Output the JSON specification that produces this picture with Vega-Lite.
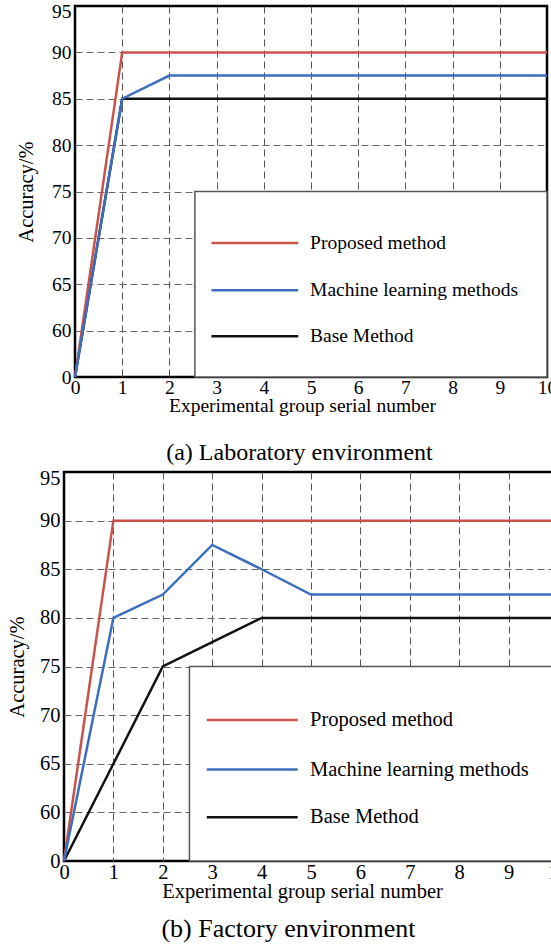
{
  "$schema": "https://vega.github.io/schema/vega-lite/v6.json",
  "padding": {"left": 6, "top": 0, "right": 5, "bottom": 5},
  "background": "white",
  "datasets": {
    "lab": [
      {"group": 0, "acc": 0, "method": "Base Method"},
      {"group": 1, "acc": 85, "method": "Base Method"},
      {"group": 2, "acc": 85, "method": "Base Method"},
      {"group": 3, "acc": 85, "method": "Base Method"},
      {"group": 4, "acc": 85, "method": "Base Method"},
      {"group": 5, "acc": 85, "method": "Base Method"},
      {"group": 6, "acc": 85, "method": "Base Method"},
      {"group": 7, "acc": 85, "method": "Base Method"},
      {"group": 8, "acc": 85, "method": "Base Method"},
      {"group": 9, "acc": 85, "method": "Base Method"},
      {"group": 10, "acc": 85, "method": "Base Method"},
      {"group": 0, "acc": 0, "method": "Proposed method"},
      {"group": 1, "acc": 90, "method": "Proposed method"},
      {"group": 2, "acc": 90, "method": "Proposed method"},
      {"group": 3, "acc": 90, "method": "Proposed method"},
      {"group": 4, "acc": 90, "method": "Proposed method"},
      {"group": 5, "acc": 90, "method": "Proposed method"},
      {"group": 6, "acc": 90, "method": "Proposed method"},
      {"group": 7, "acc": 90, "method": "Proposed method"},
      {"group": 8, "acc": 90, "method": "Proposed method"},
      {"group": 9, "acc": 90, "method": "Proposed method"},
      {"group": 10, "acc": 90, "method": "Proposed method"},
      {"group": 0, "acc": 0, "method": "Machine learning methods"},
      {"group": 1, "acc": 85, "method": "Machine learning methods"},
      {"group": 2, "acc": 87.5, "method": "Machine learning methods"},
      {"group": 3, "acc": 87.5, "method": "Machine learning methods"},
      {"group": 4, "acc": 87.5, "method": "Machine learning methods"},
      {"group": 5, "acc": 87.5, "method": "Machine learning methods"},
      {"group": 6, "acc": 87.5, "method": "Machine learning methods"},
      {"group": 7, "acc": 87.5, "method": "Machine learning methods"},
      {"group": 8, "acc": 87.5, "method": "Machine learning methods"},
      {"group": 9, "acc": 87.5, "method": "Machine learning methods"},
      {"group": 10, "acc": 87.5, "method": "Machine learning methods"}
    ],
    "factory": [
      {"group": 0, "acc": 0, "method": "Base Method"},
      {"group": 1, "acc": 65, "method": "Base Method"},
      {"group": 2, "acc": 75, "method": "Base Method"},
      {"group": 3, "acc": 77.5, "method": "Base Method"},
      {"group": 4, "acc": 80, "method": "Base Method"},
      {"group": 5, "acc": 80, "method": "Base Method"},
      {"group": 6, "acc": 80, "method": "Base Method"},
      {"group": 7, "acc": 80, "method": "Base Method"},
      {"group": 8, "acc": 80, "method": "Base Method"},
      {"group": 9, "acc": 80, "method": "Base Method"},
      {"group": 10, "acc": 80, "method": "Base Method"},
      {"group": 0, "acc": 0, "method": "Proposed method"},
      {"group": 1, "acc": 90, "method": "Proposed method"},
      {"group": 2, "acc": 90, "method": "Proposed method"},
      {"group": 3, "acc": 90, "method": "Proposed method"},
      {"group": 4, "acc": 90, "method": "Proposed method"},
      {"group": 5, "acc": 90, "method": "Proposed method"},
      {"group": 6, "acc": 90, "method": "Proposed method"},
      {"group": 7, "acc": 90, "method": "Proposed method"},
      {"group": 8, "acc": 90, "method": "Proposed method"},
      {"group": 9, "acc": 90, "method": "Proposed method"},
      {"group": 10, "acc": 90, "method": "Proposed method"},
      {"group": 0, "acc": 0, "method": "Machine learning methods"},
      {"group": 1, "acc": 80, "method": "Machine learning methods"},
      {"group": 2, "acc": 82.4, "method": "Machine learning methods"},
      {"group": 3, "acc": 87.5, "method": "Machine learning methods"},
      {"group": 4, "acc": 85, "method": "Machine learning methods"},
      {"group": 5, "acc": 82.4, "method": "Machine learning methods"},
      {"group": 6, "acc": 82.4, "method": "Machine learning methods"},
      {"group": 7, "acc": 82.4, "method": "Machine learning methods"},
      {"group": 8, "acc": 82.4, "method": "Machine learning methods"},
      {"group": 9, "acc": 82.4, "method": "Machine learning methods"},
      {"group": 10, "acc": 82.4, "method": "Machine learning methods"}
    ],
    "one": [{}]
  },
  "vconcat": [
    {
      "width": 472,
      "height": 371,
      "title": {"text": "(a) Laboratory environment", "orient": "bottom", "anchor": "middle", "baseline": "top", "fontSize": 24, "fontWeight": "normal", "color": "black", "offset": 26, "dx": -11.5},
      "layer": [
        {
          "data": {"name": "lab"},
          "mark": {"type": "line", "strokeWidth": 2.5},
          "encoding": {
            "x": {
              "field": "group", "type": "quantitative",
              "scale": {"domain": [0, 10], "nice": false, "zero": false},
              "axis": {
                "title": "Experimental group serial number",
                "values": [0, 1, 2, 3, 4, 5, 6, 7, 8, 9, 10],
                "ticks": false, "tickSize": 0, "domain": false, "labelFlush": false,
                "labelPadding": 1.5, "labelFontSize": 19.5, "labelAngle": 0,
                "titleFontSize": 19.5, "titlePadding": -1, "titleX": 227, "titleAnchor": "middle",
                "grid": true, "gridDash": [7, 4], "gridColor": "#555555", "gridWidth": 1,
                "gridOpacity": {"condition": {"test": "datum.value == 0 || datum.value == 10", "value": 0}, "value": 1}
              }
            },
            "y": {
              "field": "acc", "type": "quantitative",
              "scale": {"domain": [55, 95], "clamp": true, "nice": false, "zero": false},
              "axis": {
                "title": "Accuracy/%",
                "values": [55, 60, 65, 70, 75, 80, 85, 90, 95],
                "labelExpr": "datum.value == 55 ? '0' : datum.label",
                "ticks": false, "tickSize": 0, "domain": false, "labelFlush": false,
                "labelPadding": 4, "labelFontSize": 19.5,
                "labelBaseline": {"condition": {"test": "datum.value == 95", "value": "top"}, "value": "middle"},
                "labelOffset": {"condition": {"test": "datum.value == 95", "value": -3.5}, "value": 0},
                "titleFontSize": 20.5, "titlePadding": 15,
                "grid": true, "gridDash": [7, 4], "gridColor": "#666666", "gridWidth": 1,
                "gridOpacity": {"condition": {"test": "datum.value == 55 || datum.value == 95", "value": 0}, "value": 1}
              }
            },
            "color": {
              "field": "method", "type": "nominal", "legend": null,
              "scale": {"domain": ["Proposed method", "Machine learning methods", "Base Method"], "range": ["#c9534a", "#3c6ebe", "#111111"]}
            }
          }
        },
        {
          "data": {"name": "one"},
          "mark": {"type": "rect", "fill": "white", "stroke": "#555555", "strokeWidth": 1.5},
          "encoding": {
            "x": {"datum": 2.54, "type": "quantitative"},
            "x2": {"datum": 10},
            "y": {"datum": 55, "type": "quantitative"},
            "y2": {"datum": 75}
          }
        },
        {"data": {"name": "one"}, "mark": {"type": "rule", "color": "#c9534a", "strokeWidth": 2.5},
         "encoding": {"x": {"datum": 2.89, "type": "quantitative"}, "x2": {"datum": 4.73}, "y": {"datum": 69.45, "type": "quantitative"}}},
        {"data": {"name": "one"}, "mark": {"type": "rule", "color": "#3c6ebe", "strokeWidth": 2.5},
         "encoding": {"x": {"datum": 2.89, "type": "quantitative"}, "x2": {"datum": 4.73}, "y": {"datum": 64.35, "type": "quantitative"}}},
        {"data": {"name": "one"}, "mark": {"type": "rule", "color": "#111111", "strokeWidth": 2.5},
         "encoding": {"x": {"datum": 2.89, "type": "quantitative"}, "x2": {"datum": 4.73}, "y": {"datum": 59.4, "type": "quantitative"}}},
        {"data": {"name": "one"}, "mark": {"type": "text", "align": "left", "baseline": "middle", "fontSize": 19.5, "color": "black", "text": "Proposed method"},
         "encoding": {"x": {"datum": 4.98, "type": "quantitative"}, "y": {"datum": 69.45, "type": "quantitative"}}},
        {"data": {"name": "one"}, "mark": {"type": "text", "align": "left", "baseline": "middle", "fontSize": 19.5, "color": "black", "text": "Machine learning methods"},
         "encoding": {"x": {"datum": 4.98, "type": "quantitative"}, "y": {"datum": 64.35, "type": "quantitative"}}},
        {"data": {"name": "one"}, "mark": {"type": "text", "align": "left", "baseline": "middle", "fontSize": 19.5, "color": "black", "text": "Base Method"},
         "encoding": {"x": {"datum": 4.98, "type": "quantitative"}, "y": {"datum": 59.4, "type": "quantitative"}}}
      ]
    },
    {
      "width": 494,
      "height": 389,
      "title": {"text": "(b) Factory environment", "orient": "bottom", "anchor": "middle", "baseline": "top", "fontSize": 26, "fontWeight": "normal", "color": "black", "offset": 14, "dx": -22.5},
      "layer": [
        {
          "data": {"name": "factory"},
          "mark": {"type": "line", "strokeWidth": 2.5},
          "encoding": {
            "x": {
              "field": "group", "type": "quantitative",
              "scale": {"domain": [0, 10], "nice": false, "zero": false},
              "axis": {
                "title": "Experimental group serial number",
                "values": [0, 1, 2, 3, 4, 5, 6, 7, 8, 9, 10],
                "ticks": false, "tickSize": 0, "domain": false, "labelFlush": false,
                "labelPadding": 1.5, "labelFontSize": 20.5, "labelAngle": 0,
                "titleFontSize": 20.5, "titlePadding": -2, "titleX": 238, "titleAnchor": "middle",
                "grid": true, "gridDash": [7, 4], "gridColor": "#555555", "gridWidth": 1,
                "gridOpacity": {"condition": {"test": "datum.value == 0 || datum.value == 10", "value": 0}, "value": 1}
              }
            },
            "y": {
              "field": "acc", "type": "quantitative",
              "scale": {"domain": [55, 95], "clamp": true, "nice": false, "zero": false},
              "axis": {
                "title": "Accuracy/%",
                "values": [55, 60, 65, 70, 75, 80, 85, 90, 95],
                "labelExpr": "datum.value == 55 ? '0' : datum.label",
                "ticks": false, "tickSize": 0, "domain": false, "labelFlush": false,
                "labelPadding": 4, "labelFontSize": 20.5,
                "labelBaseline": {"condition": {"test": "datum.value == 95", "value": "top"}, "value": "middle"},
                "labelOffset": {"condition": {"test": "datum.value == 95", "value": -4}, "value": 0},
                "titleFontSize": 20.5, "titlePadding": 12,
                "grid": true, "gridDash": [7, 4], "gridColor": "#666666", "gridWidth": 1,
                "gridOpacity": {"condition": {"test": "datum.value == 55 || datum.value == 95", "value": 0}, "value": 1}
              }
            },
            "color": {
              "field": "method", "type": "nominal", "legend": null,
              "scale": {"domain": ["Proposed method", "Machine learning methods", "Base Method"], "range": ["#c9534a", "#3c6ebe", "#111111"]}
            }
          }
        },
        {
          "data": {"name": "one"},
          "mark": {"type": "rect", "fill": "white", "stroke": "#555555", "strokeWidth": 1.5},
          "encoding": {
            "x": {"datum": 2.54, "type": "quantitative"},
            "x2": {"datum": 10},
            "y": {"datum": 55, "type": "quantitative"},
            "y2": {"datum": 75}
          }
        },
        {"data": {"name": "one"}, "mark": {"type": "rule", "color": "#c9534a", "strokeWidth": 2.5},
         "encoding": {"x": {"datum": 2.89, "type": "quantitative"}, "x2": {"datum": 4.73}, "y": {"datum": 69.5, "type": "quantitative"}}},
        {"data": {"name": "one"}, "mark": {"type": "rule", "color": "#3c6ebe", "strokeWidth": 2.5},
         "encoding": {"x": {"datum": 2.89, "type": "quantitative"}, "x2": {"datum": 4.73}, "y": {"datum": 64.4, "type": "quantitative"}}},
        {"data": {"name": "one"}, "mark": {"type": "rule", "color": "#111111", "strokeWidth": 2.5},
         "encoding": {"x": {"datum": 2.89, "type": "quantitative"}, "x2": {"datum": 4.73}, "y": {"datum": 59.5, "type": "quantitative"}}},
        {"data": {"name": "one"}, "mark": {"type": "text", "align": "left", "baseline": "middle", "fontSize": 20.5, "color": "black", "text": "Proposed method"},
         "encoding": {"x": {"datum": 4.98, "type": "quantitative"}, "y": {"datum": 69.5, "type": "quantitative"}}},
        {"data": {"name": "one"}, "mark": {"type": "text", "align": "left", "baseline": "middle", "fontSize": 20.5, "color": "black", "text": "Machine learning methods"},
         "encoding": {"x": {"datum": 4.98, "type": "quantitative"}, "y": {"datum": 64.4, "type": "quantitative"}}},
        {"data": {"name": "one"}, "mark": {"type": "text", "align": "left", "baseline": "middle", "fontSize": 20.5, "color": "black", "text": "Base Method"},
         "encoding": {"x": {"datum": 4.98, "type": "quantitative"}, "y": {"datum": 59.5, "type": "quantitative"}}}
      ]
    }
  ],
  "spacing": 95,
  "center": true,
  "bounds": "flush",
  "config": {
    "font": "Liberation Serif",
    "view": {"stroke": "black", "strokeWidth": 2.5},
    "axis": {"labelColor": "black", "titleColor": "black", "titleFontWeight": "normal", "labelFont": "Liberation Serif", "titleFont": "Liberation Serif"},
    "text": {"font": "Liberation Serif"},
    "title": {"font": "Liberation Serif"}
  }
}
